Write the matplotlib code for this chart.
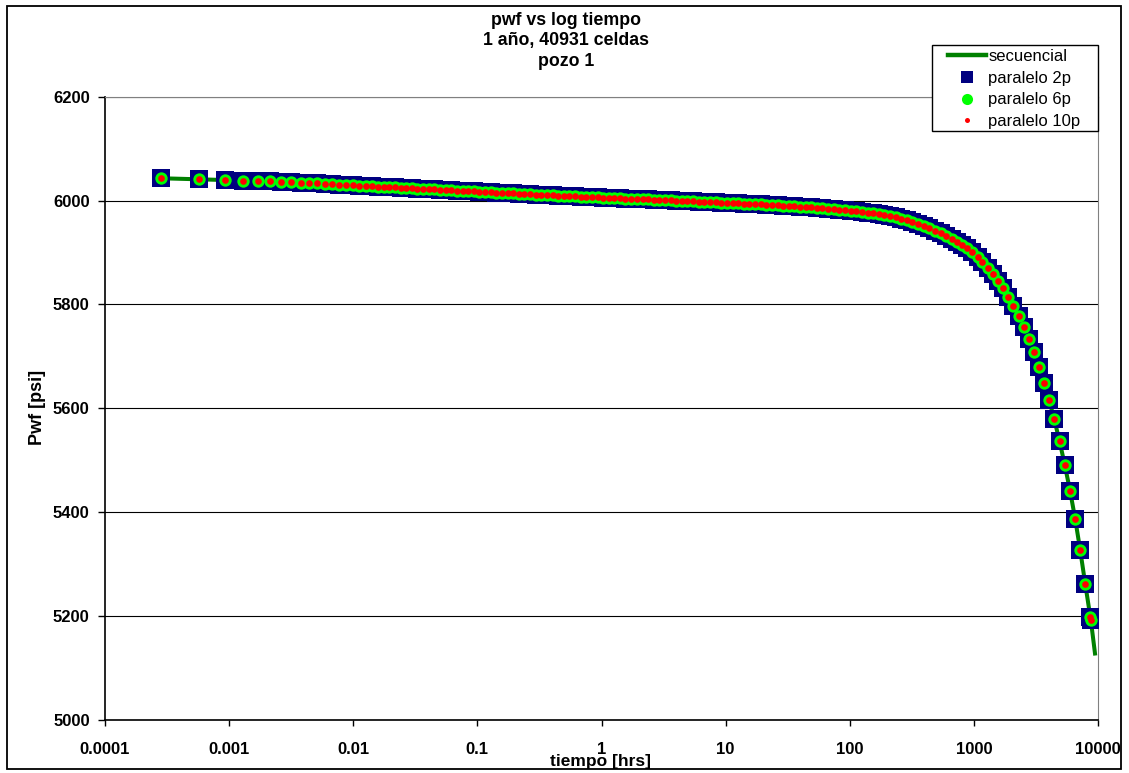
import numpy as np
import matplotlib
matplotlib.use("Agg")
import matplotlib.pyplot as plt
from matplotlib.lines import Line2D
from matplotlib.patches import Rectangle

plt.rcParams['font.family'] = ['Liberation Sans', 'DejaVu Sans']

# ── datos ──
# tiempo [hrs] de cada paso (mismo para las corridas en paralelo)
t_hrs = [
    0.000281, 0.000575, 0.00092, 0.00129, 0.00170, 0.00214, 0.00262, 0.00315, 0.00378, 0.00443,
    0.00514, 0.00593, 0.00679, 0.00773, 0.00875, 0.00991, 0.0112, 0.0126, 0.0141, 0.0158, 0.0177, 0.0195,
    0.0217, 0.0241, 0.0267, 0.0297, 0.0329, 0.0366, 0.0406, 0.0450, 0.0500, 0.0555,
    0.0616, 0.0684, 0.0759, 0.0842, 0.0935, 0.104, 0.115, 0.128, 0.142, 0.158,
    0.175, 0.194, 0.216, 0.239, 0.266, 0.295, 0.327, 0.363, 0.403, 0.448,
    0.497, 0.551, 0.612, 0.679, 0.754, 0.837, 0.929, 1.03, 1.14, 1.27,
    1.41, 1.56, 1.74, 1.93, 2.14, 2.37, 2.64, 2.93, 3.25, 3.60,
    4.00, 4.44, 4.93, 5.47, 6.07, 6.74, 7.48, 8.30, 9.22, 10.2,
    11.4, 12.6, 14.0, 15.5, 17.2, 19.1, 21.2, 23.6, 26.2, 29.0,
    32.2, 35.8, 39.7, 44.1, 48.9, 54.3, 60.3, 66.9, 74.3, 82.4,
    91.5, 102, 113, 125, 139, 154, 171, 190, 211, 234,
    260, 289, 320, 356, 395, 438, 486, 540, 599, 661,
    727, 800, 880, 968, 1070, 1170, 1290, 1420, 1560, 1720,
    1900, 2080, 2300, 2540, 2790, 3060, 3360, 3690, 4040, 4440,
    4900, 5410, 5970, 6550, 7190, 7890, 8690, 8760,
]

# pwf [psi], corridas en paralelo (2p, 6p y 10p dan lo mismo)
pwf_2p = [
    6043.0, 6041.0, 6039.6, 6038.6, 6037.6, 6036.8, 6036.0, 6035.2, 6034.4, 6033.7,
    6033.0, 6032.3, 6031.6, 6030.9, 6030.2, 6029.6, 6029.0, 6028.4, 6027.8, 6027.1, 6026.5, 6025.9,
    6025.3, 6024.7, 6024.2, 6023.6, 6023.1, 6022.5, 6022.0, 6021.4, 6020.9, 6020.4,
    6019.8, 6019.3, 6018.7, 6018.2, 6017.6, 6017.1, 6016.6, 6016.0, 6015.5, 6014.9,
    6014.4, 6013.9, 6013.3, 6012.8, 6012.2, 6011.7, 6011.2, 6010.6, 6010.1, 6009.5,
    6009.0, 6008.5, 6008.0, 6007.5, 6007.0, 6006.6, 6006.1, 6005.7, 6005.2, 6004.8,
    6004.3, 6003.9, 6003.4, 6003.0, 6002.5, 6002.1, 6001.6, 6001.2, 6000.7, 6000.3,
    5999.8, 5999.4, 5998.9, 5998.4, 5998.0, 5997.5, 5997.0, 5996.5, 5996.0, 5995.5,
    5995.0, 5994.6, 5994.1, 5993.6, 5993.1, 5992.6, 5992.1, 5991.5, 5990.9, 5990.3,
    5989.6, 5988.9, 5988.2, 5987.5, 5986.8, 5986.0, 5985.2, 5984.4, 5983.5, 5982.6,
    5981.7, 5980.7, 5979.5, 5978.3, 5977.0, 5975.5, 5973.8, 5971.9, 5969.8, 5967.5,
    5965.0, 5962.0, 5958.5, 5954.5, 5950.5, 5946.5, 5942.0, 5937.0, 5932.0, 5926.5,
    5920.5, 5914.5, 5908.0, 5901.0, 5892.0, 5882.0, 5870.0, 5858.0, 5845.0, 5831.0,
    5815.0, 5797.0, 5777.0, 5756.0, 5733.0, 5708.0, 5680.0, 5649.0, 5616.0, 5579.0,
    5537.0, 5490.0, 5440.0, 5387.0, 5327.0, 5262.0, 5198.0, 5192.0,
]
pwf_6p = pwf_2p
pwf_10p = pwf_2p

# la corrida secuencial tiene un paso más al final
t_sec_extra = [9460]
pwf_sec_extra = [5128.0]
t_sec = t_hrs + t_sec_extra
pwf_sec = pwf_2p + pwf_sec_extra

x_ticks = [0.0001, 0.001, 0.01, 0.1, 1, 10, 100, 1000, 10000]
x_labels = ["0.0001", "0.001", "0.01", "0.1", "1", "10", "100", "1000", "10000"]
y_ticks = [5000, 5200, 5400, 5600, 5800, 6000, 6200]

title_lines = ["pwf vs log tiempo", "1 año, 40931 celdas", "pozo 1"]

# ── figura ──
W, H = 1129, 773
fig = plt.figure(figsize=(W / 100, H / 100), dpi=100)
ax = fig.add_axes([105 / W, 1 - 720 / H, (1098 - 105) / W, (720 - 96.7) / H])

ax.plot(t_sec, pwf_sec, color="#008000", lw=2.9, zorder=2, label="secuencial")
ax.plot(t_hrs, pwf_2p, ls="none", marker="s", ms=13.5, mfc="#000080", mec="#000080",
        mew=0, zorder=3, label="paralelo 2p")
ax.plot(t_hrs, pwf_6p, ls="none", marker="o", ms=8.9, mfc="#00FF00", mec="#00FF00",
        mew=0, zorder=4, label="paralelo 6p")
ax.plot(t_hrs, pwf_10p, ls="none", marker="o", ms=4.8, mfc="#FF0000", mec="#FF0000",
        mew=0, zorder=5, label="paralelo 10p")

ax.set_xscale("log")
ax.set_xlim(1e-4, 1e4)
ax.set_ylim(5000, 6200)
ax.xaxis.set_major_locator(matplotlib.ticker.FixedLocator(x_ticks))
ax.xaxis.set_minor_locator(matplotlib.ticker.NullLocator())
ax.set_xticklabels(x_labels)
ax.set_yticks(y_ticks)

for lab in ax.get_xticklabels() + ax.get_yticklabels():
    lab.set_fontweight("bold")
    lab.set_fontsize(12)

ax.tick_params(axis="y", direction="out", length=5, width=1, pad=6, colors="black")
ax.tick_params(axis="x", direction="out", length=4, width=1, pad=12, colors="black")

ax.yaxis.grid(True, color="black", lw=0.8)
ax.set_axisbelow(True)

ax.spines["left"].set_color("black")
ax.spines["bottom"].set_color("black")
ax.spines["left"].set_linewidth(1.2)
ax.spines["bottom"].set_linewidth(1.2)
ax.spines["top"].set_color("#808080")
ax.spines["right"].set_color("#808080")

# títulos y ejes
for i, line in enumerate(title_lines):
    fig.text(566 / W, 1 - (20.5 + 20.5 * i) / H, line, ha="center", va="center",
             fontsize=12.8, fontweight="bold")
fig.text(38 / W, 1 - 407 / H, "Pwf [psi]", rotation=90, ha="center", va="center",
         fontsize=13, fontweight="bold")
fig.text(601 / W, 1 - 766 / H, "tiempo [hrs]", ha="center", va="baseline",
         fontsize=12.5, fontweight="bold")

# leyenda
handles = [
    Line2D([], [], color="#008000", lw=3.2),
    Line2D([], [], ls="none", marker="s", ms=8.5, mfc="#000080", mec="#000080", mew=0),
    Line2D([], [], ls="none", marker="o", ms=8, mfc="#00FF00", mec="#00FF00", mew=0),
    Line2D([], [], ls="none", marker="o", ms=3.6, mfc="#FF0000", mec="#FF0000", mew=0),
]
labels = ["secuencial", "paralelo 2p", "paralelo 6p", "paralelo 10p"]
leg = fig.legend(handles, labels, loc="upper left", bbox_to_anchor=(948 / W, 1 - 49 / H),
                 bbox_transform=fig.transFigure, frameon=False, borderpad=0,
                 borderaxespad=0, handlelength=2.3, handletextpad=0.12,
                 labelspacing=0.4, fontsize=12)
fig.patches.append(Rectangle((932 / W, 1 - 131 / H), (1098 - 932) / W, (131 - 45) / H,
                             transform=fig.transFigure, fill=True, facecolor="white",
                             edgecolor="black", lw=1, zorder=1))

# marco exterior
fig.patches.append(Rectangle((7 / W, 1 - 769 / H), (1121 - 7) / W, (769 - 6) / H,
                             transform=fig.transFigure, fill=False, edgecolor="black", lw=1.3))

fig.savefig("out.png", dpi=100)
